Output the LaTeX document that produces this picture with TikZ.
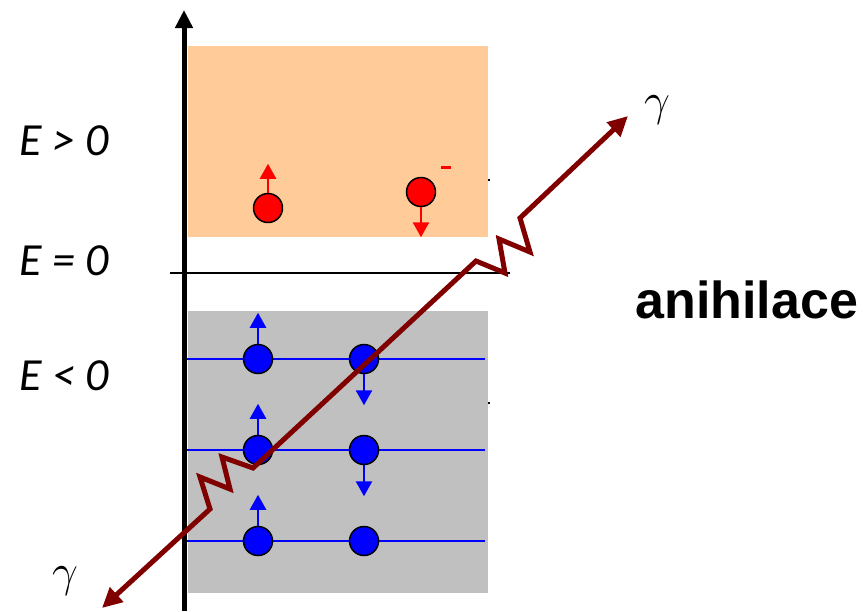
\RequirePackage{fix-cm}
\documentclass[tikz,border=0pt]{standalone}
\usepackage{fontspec}
\setmainfont{Liberation Sans}
\newfontfamily\calfont{Carlito}
\usetikzlibrary{arrows.meta,positioning,calc}
\definecolor{bandup}{HTML}{FFCC99}
\definecolor{banddown}{HTML}{C0C0C0}
\definecolor{photon}{HTML}{800000}
\tikzset{
  elec/.style={circle,draw=black,line width=1.5pt,minimum size=29pt,inner sep=0pt},
  spin/.style={line width=2.5pt,-{Triangle[length=15pt,width=16pt]}},
  elabel/.style={anchor=base west,font=\calfont\itshape\fontsize{46}{50}\selectfont},
  gammalabel/.style={font=\fontsize{46}{50}\selectfont},
}

\begin{document}
\begin{tikzpicture}[x=1pt,y=-1pt]
    \useasboundingbox (0,0) rectangle (866,611);
    % bands
    \fill[bandup] (188,46) rectangle (488,237);
    \fill[banddown] (188,311) rectangle (488,593);
    \fill (488,179) rectangle (490,181);
    \fill (488,402) rectangle (490,404);
    % filled levels of the Dirac sea
    \foreach \y/\n in {359/1,450/2,541/3}{
      \draw[blue,line width=2pt] (184,\y) -- (485,\y);
      \node[elec,fill=blue] (sl\n) at (258,\y) {};
      \node[elec,fill=blue] (sr\n) at (364,\y) {};
      \draw[spin,blue] (sl\n.north) -- ++(0,-31);
    }
    \foreach \n in {1,2}
      \draw[spin,blue] (sr\n.south) -- ++(0,31);
    % electrons
    \node[elec,fill=red] (el) at (268,208) {};
    \node[elec,fill=red] (er) at (421,192) {};
    \draw[spin,red] (el.north) -- ++(0,-29);
    \draw[spin,red] (er.south) -- ++(0,30);
    \draw[red,line width=3pt] (441,167) -- (451,167);
    % axes
    \draw[line width=1.5pt] (170,273) -- (510,273);
    \draw[line width=5pt,-{Triangle[length=18pt,width=17pt]}] (184,611) -- (184,10);
    \node[elabel] (epos) at (16,155) {E > 0};
    \node[elabel] (ezero) at (16,275) {E = 0};
    \node[elabel] (eneg) at (16,390) {E < 0};
    % photons
    \coordinate (gin) at (102,608);
    \coordinate (gout) at (628,116);
    \draw[photon,line width=5pt,line join=miter,{Triangle[length=20pt,width=19pt]}-{Triangle[length=20pt,width=19pt]}]
      (gin) -- (210,509) -- (200,477) -- (230,489) -- (222,457) -- (253,468)
      -- (476,261) -- (505,273) -- (499,239) -- (530,252) -- (520,218) -- (gout);
    \node[gammalabel] (gl) at (65,581) {$\gamma$};
    \node[gammalabel] (gu) at (657,110) {$\gamma$};
    \node[anchor=base west,font=\bfseries\fontsize{52}{56}\selectfont] (anih) at (632,318) {anihilace};
  \end{tikzpicture}
\end{document}
